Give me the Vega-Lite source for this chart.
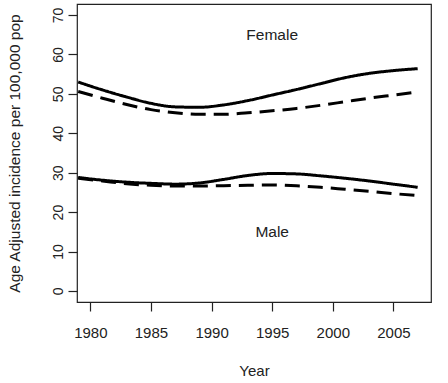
{
  "$schema": "https://vega.github.io/schema/vega-lite/v6.json",
  "width": 354,
  "height": 298,
  "autosize": {"type": "none"},
  "padding": {"left": 77, "top": 4, "right": 17, "bottom": 81},
  "background": "white",
  "config": {
    "font": "Liberation Sans",
    "view": {"stroke": "#222222", "strokeWidth": 1.2},
    "axis": {"grid": false, "domain": false, "tickColor": "#222222", "tickWidth": 1.2, "tickSize": 9, "labelColor": "#222222", "titleColor": "#222222", "titleFontWeight": "normal", "labelFont": "Liberation Sans", "titleFont": "Liberation Sans"}
  },
  "datasets": {
    "series": [
      {"year": 1979, "value": 53.0, "sex": "Female", "type": "solid"},
      {"year": 1981, "value": 51.0, "sex": "Female", "type": "solid"},
      {"year": 1983, "value": 49.2, "sex": "Female", "type": "solid"},
      {"year": 1985, "value": 47.6, "sex": "Female", "type": "solid"},
      {"year": 1987, "value": 46.7, "sex": "Female", "type": "solid"},
      {"year": 1989, "value": 46.6, "sex": "Female", "type": "solid"},
      {"year": 1991, "value": 47.2, "sex": "Female", "type": "solid"},
      {"year": 1993, "value": 48.3, "sex": "Female", "type": "solid"},
      {"year": 1995, "value": 49.7, "sex": "Female", "type": "solid"},
      {"year": 1997, "value": 51.1, "sex": "Female", "type": "solid"},
      {"year": 1999, "value": 52.6, "sex": "Female", "type": "solid"},
      {"year": 2001, "value": 54.1, "sex": "Female", "type": "solid"},
      {"year": 2003, "value": 55.2, "sex": "Female", "type": "solid"},
      {"year": 2005, "value": 55.9, "sex": "Female", "type": "solid"},
      {"year": 2007, "value": 56.4, "sex": "Female", "type": "solid"},
      {"year": 1979, "value": 50.6, "sex": "Female", "type": "dashed"},
      {"year": 1981, "value": 48.9, "sex": "Female", "type": "dashed"},
      {"year": 1983, "value": 47.3, "sex": "Female", "type": "dashed"},
      {"year": 1985, "value": 46.0, "sex": "Female", "type": "dashed"},
      {"year": 1987, "value": 45.2, "sex": "Female", "type": "dashed"},
      {"year": 1989, "value": 44.8, "sex": "Female", "type": "dashed"},
      {"year": 1991, "value": 44.8, "sex": "Female", "type": "dashed"},
      {"year": 1993, "value": 45.2, "sex": "Female", "type": "dashed"},
      {"year": 1995, "value": 45.7, "sex": "Female", "type": "dashed"},
      {"year": 1997, "value": 46.3, "sex": "Female", "type": "dashed"},
      {"year": 1999, "value": 47.1, "sex": "Female", "type": "dashed"},
      {"year": 2001, "value": 48.0, "sex": "Female", "type": "dashed"},
      {"year": 2003, "value": 48.9, "sex": "Female", "type": "dashed"},
      {"year": 2005, "value": 49.7, "sex": "Female", "type": "dashed"},
      {"year": 2007, "value": 50.5, "sex": "Female", "type": "dashed"},
      {"year": 1979, "value": 28.8, "sex": "Male", "type": "solid"},
      {"year": 1981, "value": 28.1, "sex": "Male", "type": "solid"},
      {"year": 1983, "value": 27.6, "sex": "Male", "type": "solid"},
      {"year": 1985, "value": 27.3, "sex": "Male", "type": "solid"},
      {"year": 1987, "value": 27.1, "sex": "Male", "type": "solid"},
      {"year": 1989, "value": 27.4, "sex": "Male", "type": "solid"},
      {"year": 1991, "value": 28.3, "sex": "Male", "type": "solid"},
      {"year": 1993, "value": 29.3, "sex": "Male", "type": "solid"},
      {"year": 1995, "value": 29.8, "sex": "Male", "type": "solid"},
      {"year": 1997, "value": 29.7, "sex": "Male", "type": "solid"},
      {"year": 1999, "value": 29.2, "sex": "Male", "type": "solid"},
      {"year": 2001, "value": 28.6, "sex": "Male", "type": "solid"},
      {"year": 2003, "value": 27.9, "sex": "Male", "type": "solid"},
      {"year": 2005, "value": 27.1, "sex": "Male", "type": "solid"},
      {"year": 2007, "value": 26.3, "sex": "Male", "type": "solid"},
      {"year": 1979, "value": 28.6, "sex": "Male", "type": "dashed"},
      {"year": 1981, "value": 27.9, "sex": "Male", "type": "dashed"},
      {"year": 1983, "value": 27.2, "sex": "Male", "type": "dashed"},
      {"year": 1985, "value": 26.8, "sex": "Male", "type": "dashed"},
      {"year": 1987, "value": 26.6, "sex": "Male", "type": "dashed"},
      {"year": 1989, "value": 26.6, "sex": "Male", "type": "dashed"},
      {"year": 1991, "value": 26.7, "sex": "Male", "type": "dashed"},
      {"year": 1993, "value": 26.8, "sex": "Male", "type": "dashed"},
      {"year": 1995, "value": 26.9, "sex": "Male", "type": "dashed"},
      {"year": 1997, "value": 26.7, "sex": "Male", "type": "dashed"},
      {"year": 1999, "value": 26.3, "sex": "Male", "type": "dashed"},
      {"year": 2001, "value": 25.8, "sex": "Male", "type": "dashed"},
      {"year": 2003, "value": 25.3, "sex": "Male", "type": "dashed"},
      {"year": 2005, "value": 24.7, "sex": "Male", "type": "dashed"},
      {"year": 2007, "value": 24.2, "sex": "Male", "type": "dashed"}
    ],
    "labels": [
      {"year": 1995, "value": 65, "label": "Female"},
      {"year": 1995, "value": 15, "label": "Male"}
    ]
  },
  "layer": [
    {
      "data": {"name": "series"},
      "mark": {"type": "line", "interpolate": "monotone", "strokeWidth": 3, "color": "black", "clip": true},
      "encoding": {
        "x": {"field": "year", "type": "quantitative",
              "scale": {"domain": [1978.9, 2008.1], "nice": false, "zero": false},
              "axis": {"title": "Year", "values": [1980, 1985, 1990, 1995, 2000, 2005], "format": "d", "labelFontSize": 15, "labelPadding": 14, "titleFontSize": 15, "titlePadding": 23}},
        "y": {"field": "value", "type": "quantitative",
              "scale": {"domain": [-2.8, 72.8], "nice": false, "zero": false},
              "axis": {"title": "Age Adjusted incidence per 100,000 pop", "values": [0, 10, 20, 30, 40, 50, 60, 70], "labelAngle": -90, "labelAlign": "center", "labelBaseline": "bottom", "labelFontSize": 14, "labelPadding": 3, "titleFontSize": 15.5, "titlePadding": 29}},
        "detail": {"field": "sex"},
        "strokeDash": {"field": "type", "type": "nominal",
                       "scale": {"domain": ["solid", "dashed"], "range": [[1, 0], [15, 8]]},
                       "legend": null}
      }
    },
    {
      "data": {"name": "labels"},
      "mark": {"type": "text", "fontSize": 15.5, "color": "#222222", "font": "Liberation Sans"},
      "encoding": {
        "x": {"field": "year", "type": "quantitative"},
        "y": {"field": "value", "type": "quantitative"},
        "text": {"field": "label"}
      }
    }
  ]
}
